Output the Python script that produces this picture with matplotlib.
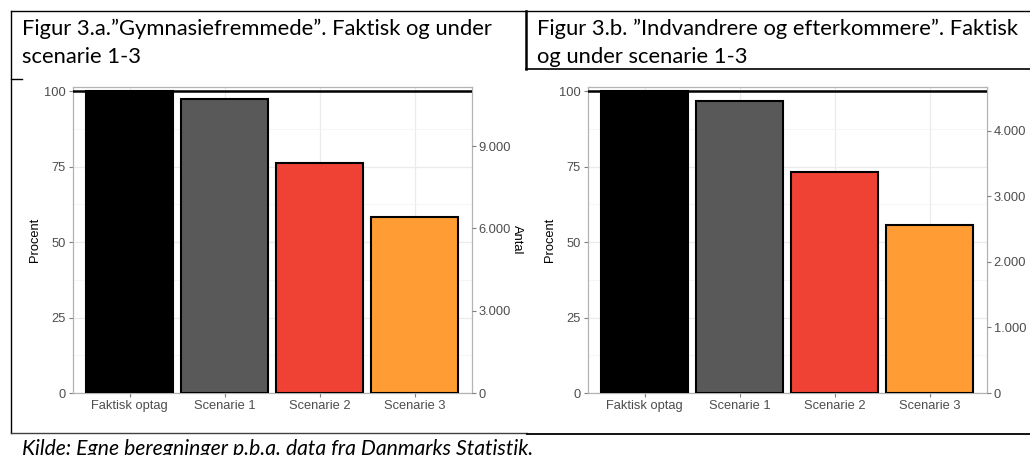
import matplotlib
matplotlib.use("Agg")
import matplotlib.pyplot as plt
from matplotlib.ticker import FuncFormatter, MultipleLocator

# data
categories = ["Faktisk optag", "Scenarie 1", "Scenarie 2", "Scenarie 3"]
pct_gymnasie = [100.0, 97.3, 76.1, 58.4]
pct_indvandrere = [100.0, 96.8, 73.2, 55.7]
antal_gymnasie_total = 11000   # persons at 100 %
antal_indvandrere_total = 4600
antal_ticks_gymnasie = [0, 3000, 6000, 9000]
antal_ticks_indvandrere = [0, 1000, 2000, 3000, 4000]

title_a = ["Figur 3.a.\u201dGymnasiefremmede\u201d. Faktisk og under", "scenarie 1-3"]
title_b = ["Figur 3.b. \u201dIndvandrere og efterkommere\u201d. Faktisk", "og under scenarie 1-3"]
source = "Kilde: Egne beregninger p.b.a. data fra Danmarks Statistik."

bar_colors = ["#000000", "#595959", "#F04135", "#FF9C33"]

W, H = 1030, 455
CHART_FONT = "Liberation Sans"
DOC_FONT = "Lato"
YTOP = 101.4


def thousands(v, pos=None):
    return f"{v:,.0f}".replace(",", ".")


def panel(fig, left_px, right_px, values, total, antal_ticks):
    bottom_px, top_px = 393, 87
    ax = fig.add_axes([left_px / W, (H - bottom_px) / H,
                       (right_px - left_px) / W, (bottom_px - top_px) / H])
    x = range(len(categories))
    ax.bar(x, values, width=0.92, color=bar_colors, edgecolor="black",
           linewidth=1.5, zorder=3)
    ax.axhline(100, color="black", linewidth=1.8, zorder=4)
    ax.set_xlim(-0.6, len(categories) - 0.4)
    ax.set_ylim(0, YTOP)
    ax.set_xticks(list(x))
    ax.set_xticklabels(categories)
    ax.set_yticks([0, 25, 50, 75, 100])
    ax.yaxis.set_minor_locator(MultipleLocator(12.5))
    ax.grid(True, which="major", color="#EBEBEB", linewidth=0.9, zorder=0)
    ax.grid(True, which="minor", axis="y", color="#F4F4F4", linewidth=0.6, zorder=0)
    ax.tick_params(which="minor", length=0)
    ax.tick_params(which="major", length=3, color="#7F7F7F", width=0.8,
                   labelsize=9.3, labelcolor="#4D4D4D", pad=2)
    for lab in ax.get_xticklabels() + ax.get_yticklabels():
        lab.set_fontfamily(CHART_FONT)
    for s in ax.spines.values():
        s.set_color("#B3B3B3")
        s.set_linewidth(0.9)
    ax.set_ylabel("Procent", fontsize=9.3, family=CHART_FONT, labelpad=2)

    ax2 = ax.twinx()
    ax2.set_ylim(0, YTOP * total / 100)
    ax2.set_yticks(antal_ticks)
    ax2.yaxis.set_major_formatter(FuncFormatter(thousands))
    ax2.tick_params(length=3, color="#7F7F7F", width=0.8, labelsize=9.3,
                    labelcolor="#4D4D4D", pad=2)
    for lab in ax2.get_yticklabels():
        lab.set_fontfamily(CHART_FONT)
    for s in ax2.spines.values():
        s.set_visible(False)
    ax2.set_ylabel("Antal", fontsize=9.3, family=CHART_FONT, rotation=270,
                   labelpad=9)
    return ax


fig = plt.figure(figsize=(W / 100, H / 100), dpi=100)

panel(fig, 72.5, 471.5, pct_gymnasie, antal_gymnasie_total, antal_ticks_gymnasie)
panel(fig, 587.7, 986.7, pct_indvandrere, antal_indvandrere_total, antal_ticks_indvandrere)

# document table frame and texts
doc = fig.add_axes([0, 0, 1, 1], zorder=10)
doc.set_xlim(0, W)
doc.set_ylim(H, 0)
doc.axis("off")
doc.patch.set_alpha(0)
doc.plot([11, W], [11, 11], color="black", linewidth=1.0)
doc.plot([11, 11], [11, 433], color="black", linewidth=1.0)
doc.plot([11, 22], [79, 79], color="black", linewidth=1.0)
doc.plot([526, 526], [11, 69], color="black", linewidth=1.8)
doc.plot([526, W], [69, 69], color="black", linewidth=1.2)
doc.plot([11, 527], [433, 433], color="#404040", linewidth=1.0)
doc.plot([527, W], [433.5, 433.5], color="black", linewidth=1.3)

doc.text(22, 35, title_a[0], fontsize=15.8, family=DOC_FONT, va="baseline")
doc.text(22, 63, title_a[1], fontsize=15.8, family=DOC_FONT, va="baseline")
doc.text(537, 35, title_b[0], fontsize=15.8, family=DOC_FONT, va="baseline")
doc.text(537, 63, title_b[1], fontsize=15.8, family=DOC_FONT, va="baseline")
doc.text(22, 455, source, fontsize=15.2, family=DOC_FONT, style="italic",
         va="baseline")

fig.savefig("out.png", dpi=100)
